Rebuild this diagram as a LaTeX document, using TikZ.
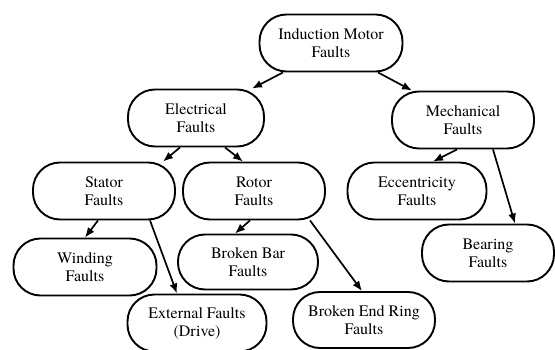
\documentclass[tikz,border=0pt]{standalone}
\usepackage{fontspec}
\setmainfont{TeX Gyre Termes}
\usetikzlibrary{arrows.meta}
\begin{document}
\begin{tikzpicture}[x=1pt,y=-1pt,
     fault/.style={draw,line width=1.9pt,rounded corners=27pt,minimum width=140pt,minimum height=57pt,align=center,font=\fontsize{16}{18}\selectfont},
     arr/.style={line width=1.7pt,-{Latex[length=10pt,width=8pt]}}]
     \useasboundingbox (0,0) rectangle (555,350);
     \node[fault,minimum width=143pt] (imf) at (331,43){Induction Motor\\Faults};
     \node[fault,minimum width=136pt] (elec) at (196,118){Electrical\\Faults};
     \node[fault,minimum width=142pt] (mech) at (463,120){Mechanical\\Faults};
     \node[fault,minimum width=142pt] (stator) at (104,191){Stator\\Faults};
     \node[fault,minimum width=142pt] (rotor) at (254,191){Rotor\\Faults};
     \node[fault,minimum width=139pt] (ecc) at (417,191){Eccentricity\\Faults};
     \node[fault,minimum width=143pt] (wind) at (85,267){Winding\\Faults};
     \node[fault,minimum width=140pt,minimum height=55pt] (bar) at (248,262){Broken Bar\\Faults};
     \node[fault,minimum width=132pt] (bear) at (488,253){Bearing\\Faults};
     \node[fault,minimum width=139pt] (ext) at (197,323){External Faults\\(Drive)};
     \node[fault,minimum width=142pt,minimum height=56pt] (ring) at (364,320){Broken End Ring\\Faults};

     \draw[arr] ([xshift=-48pt]imf.south) -- ([xshift=56pt]elec.north);
     \draw[arr] ([xshift=47pt]imf.south) -- ([xshift=-51pt]mech.north);
     \draw[arr] ([xshift=-16pt]elec.south) -- ([xshift=59pt]stator.north);
     \draw[arr] ([xshift=29pt]elec.south) -- ([xshift=-11pt]rotor.north);
     \draw[arr] ([xshift=-6pt]mech.south) -- ([xshift=16pt]ecc.north);
     \draw[arr] ([xshift=30pt]mech.south) -- ([xshift=27pt]bear.north);
     \draw[arr] ([xshift=-6pt]stator.south) -- (wind.north);
     \draw[arr] ([xshift=46pt]stator.south) -- ([xshift=-20pt]ext.north);
     \draw[arr] ([xshift=-4pt]rotor.south) -- ([xshift=-13pt]bar.north);
     \draw[arr] ([xshift=56pt]rotor.south) -- ([xshift=-2pt]ring.north);
\end{tikzpicture}
\end{document}
